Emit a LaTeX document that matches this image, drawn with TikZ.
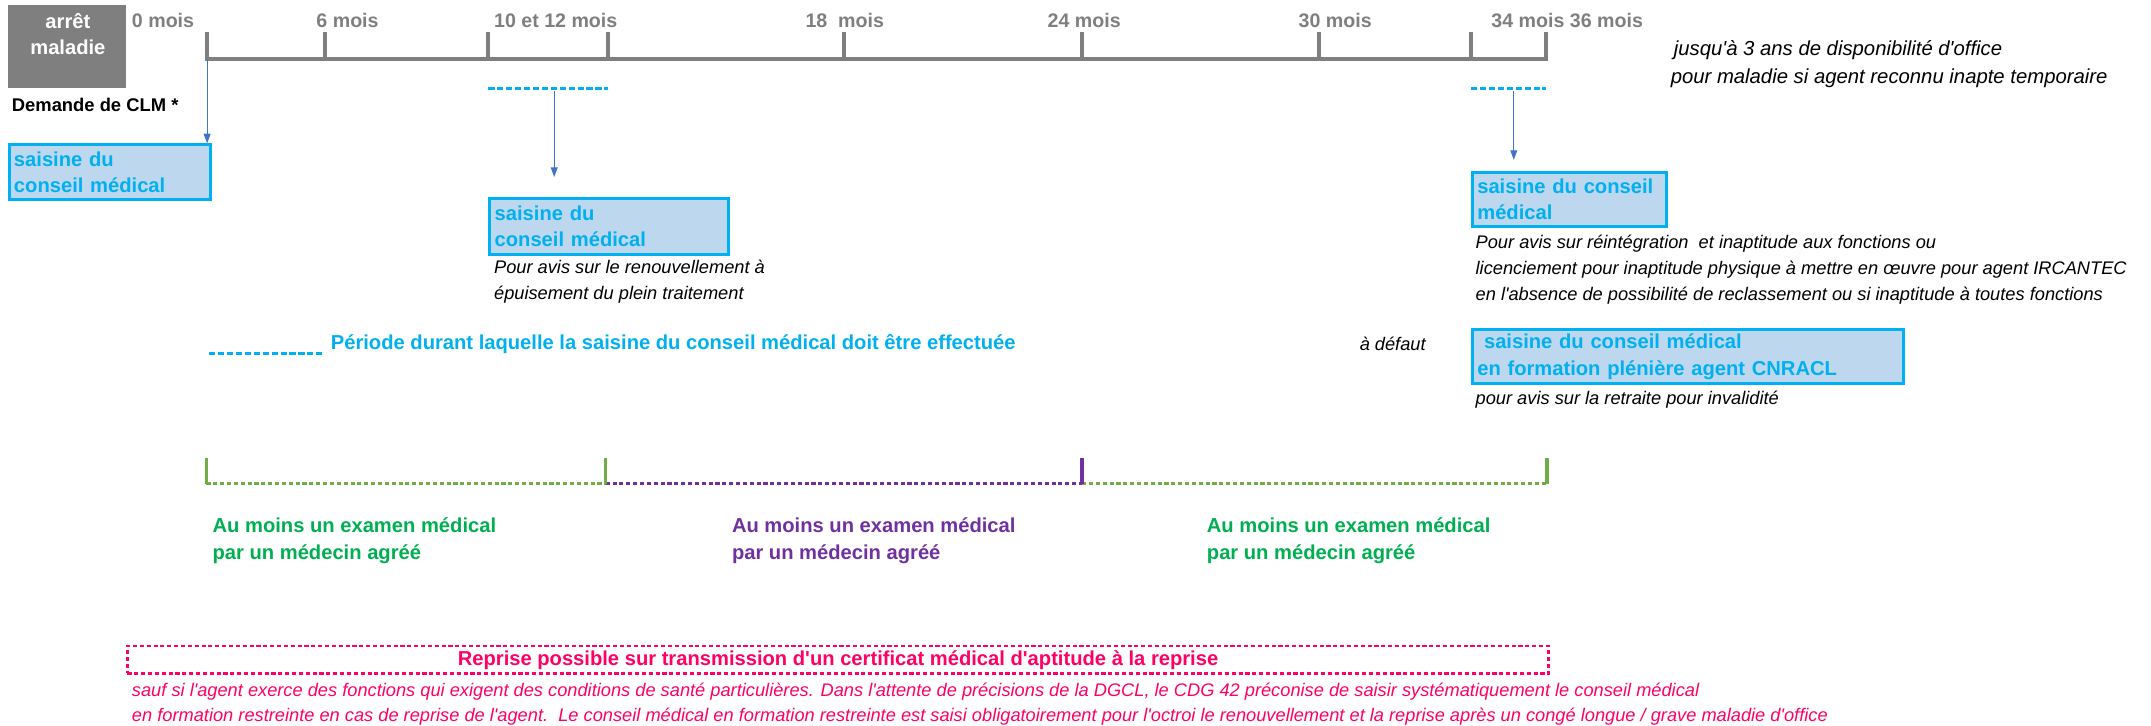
\documentclass[tikz,border=0pt]{standalone}
\usepackage{fontspec}
\setmainfont{Liberation Sans}[Ligatures=TeXOff]
\usetikzlibrary{arrows.meta,calc}
\definecolor{axisgray}{HTML}{7F7F7F}
\definecolor{cyanc}{HTML}{00B0F0}
\definecolor{boxfill}{HTML}{BDD7EE}
\definecolor{arrowblue}{HTML}{4472C4}
\definecolor{greenline}{HTML}{70AD47}
\definecolor{greentext}{HTML}{00B050}
\definecolor{purplec}{HTML}{7030A0}
\definecolor{pinkc}{HTML}{FF0066}
\newcommand{\myfB}{\fontsize{14.7}{19.5}\selectfont\bfseries}
\newcommand{\myfT}{\fontsize{14.3}{17}\selectfont\bfseries}
\newcommand{\myfI}{\fontsize{13.3}{18.8}\selectfont\itshape}
\newcommand{\myfIL}{\fontsize{14.8}{20}\selectfont\itshape}
\tikzset{
  axisline/.style={draw=axisgray, line width=3pt, line cap=butt, line join=miter},
  ticklbl/.style={anchor=base west, inner sep=0pt, text=axisgray, font=\myfT},
  cmbox/.style={draw=cyanc, line width=2.2pt, fill=boxfill, anchor=north west, align=left,
    text=cyanc, font=\myfB, inner xsep=3.5pt, inner ysep=0pt},
  note/.style={anchor=north west, inner sep=0pt, align=left, font=\myfI},
  oneline/.style={anchor=base west, inner sep=0pt},
  bluedash/.style={draw=cyanc, line width=2.2pt, dash pattern=on 4.5pt off 2pt},
  conn/.style={draw=arrowblue, line width=0.8pt, -{Triangle[length=7pt,width=5pt]}},
  greendash/.style={draw=greenline, line width=2.2pt, dash pattern=on 3pt off 2pt},
  purpledash/.style={draw=purplec, line width=2.2pt, dash pattern=on 3pt off 2pt},
  greentick/.style={draw=greenline, line width=2.6pt},
  purpletick/.style={draw=purplec, line width=2.6pt},
  exam/.style={anchor=north west, inner sep=0pt, align=left, font=\myfB},
}
\begin{document}
\begin{tikzpicture}[x=1pt,y=-1pt]
\useasboundingbox (0,0) rectangle (1568,529);

% grey box
\fill[axisgray] (6,3.6) rectangle (92,64);
\node[inner sep=0pt, align=center, text=white, font=\myfB] (arret) at (49.5,24.8) {arrêt\\maladie};
\node[oneline, font=\fontsize{13.4}{16}\selectfont\bfseries] (clm) at (8.5,81.4) {Demande de CLM *};

% time axis
\coordinate (t0) at (151,43);
\coordinate (t6) at (237,43);
\coordinate (t10) at (356,43);
\coordinate (t12) at (443,43);
\coordinate (t18) at (615.5,43);
\coordinate (t24) at (788.5,43);
\coordinate (t30) at (961.4,43);
\coordinate (t34) at (1072.4,43);
\coordinate (t36) at (1126.7,43);
\draw[axisline] ($(t0)+(0,-20)$) -- (t0) -- (t36) -- ($(t36)+(0,-20)$);
\foreach \t in {t6,t10,t12,t18,t24,t30,t34}
  \draw[axisline] (\t) -- ++(0,-20);

\node[ticklbl] (l0) at (96,19.7) {0 mois};
\node[ticklbl] (l6) at (230.5,19.7) {6 mois};
\node[ticklbl] (l10) at (360,19.7) {10 et 12 mois};
\node[ticklbl] (l18) at (587,19.7) {18\ \ mois};
\node[ticklbl] (l24) at (763.5,19.7) {24 mois};
\node[ticklbl] (l30) at (946.5,19.7) {30 mois};
\node[ticklbl] (l34) at (1087,19.7) {34 mois 36 mois};

\node[oneline, font=\myfIL] (jus1) at (1220,40.5) {jusqu'à 3 ans de disponibilité d'office};
\node[oneline, font=\myfIL] (jus2) at (1217.7,61.2) {pour maladie si agent reconnu inapte temporaire};

% saisine periods
\coordinate (d10) at (356,64.4);
\coordinate (d12) at (443,64.4);
\coordinate (d34) at (1072.4,64.4);
\coordinate (d36) at (1126.7,64.4);
\draw[bluedash] (d10) -- (d12);
\draw[bluedash] (d34) -- (d36);

% boxes
\node[cmbox, minimum width=146.4pt, text width=139.4pt, minimum height=40pt] (b1) at (5.6,104.5) {saisine du\\conseil médical};
\node[cmbox, minimum width=174pt, text width=167pt, minimum height=41pt] (b2) at (356,143.4) {saisine du\\conseil médical};
\node[cmbox, minimum width=141.6pt, text width=134.6pt, minimum height=39.5pt] (b3) at (1072.3,124.5) {saisine du conseil\\médical};
\node[cmbox, minimum width=314pt, text width=307pt, minimum height=39pt] (b4) at (1072.3,239.3) {\ saisine du conseil médical\\en formation plénière agent CNRACL};

% arrows
\coordinate (a2s) at (404,66);
\coordinate (a2e) at (404,129);
\coordinate (a3s) at (1103.5,66);
\coordinate (a3e) at (1103.5,116.6);
\draw[conn] (t0) -- (t0 |- b1.north);
\draw[conn] (a2s) -- (a2e);
\draw[conn] (a3s) -- (a3e);

% notes
\node[note] (n2) at (360,186.2) {\rule{0pt}{13pt}Pour avis sur le renouvellement à\\épuisement du plein traitement};
\node[note] (n3) at (1075.5,167.9) {\rule{0pt}{13pt}Pour avis sur réintégration\ \ et inaptitude aux fonctions ou\\licenciement pour inaptitude physique à mettre en œuvre pour agent IRCANTEC\\en l'absence de possibilité de reclassement ou si inaptitude à toutes fonctions};
\node[note] (n4) at (1075.5,281.4) {\rule{0pt}{13pt}pour avis sur la retraite pour invalidité};
\node[oneline, font=\myfI] (defaut) at (991,255.5) {à défaut};

% legend
\coordinate (lg1) at (152.5,258);
\coordinate (lg2) at (237,258);
\draw[bluedash] (lg1) -- (lg2);
\node[oneline, font=\myfB, text=cyanc] (periode) at (241,255.1) {Période durant laquelle la saisine du conseil médical doit être effectuée};

% examination brackets
\coordinate (m0) at (150.5,352.5);
\coordinate (m12) at (441.5,352.5);
\coordinate (m24) at (788.8,352.5);
\coordinate (m36) at (1127.7,352.5);
\draw[greendash] (m0) -- (m12);
\draw[purpledash] (m12) -- (m24);
\draw[greendash] (m24) -- (m36);
\draw[greentick] (m0) -- ++(0,-19);
\draw[greentick] (m12) -- ++(0,-19);
\draw[purpletick] (m24) -- ++(0,-19);
\draw[greentick] (m36) -- ++(0,-19);
\node[exam, text=greentext] (e1) at (154.8,374) {\rule{0pt}{14pt}Au moins un examen médical\\par un médecin agréé};
\node[exam, text=purplec] (e2) at (533.4,374) {\rule{0pt}{14pt}Au moins un examen médical\\par un médecin agréé};
\node[exam, text=greentext] (e3) at (879.6,374) {\rule{0pt}{14pt}Au moins un examen médical\\par un médecin agréé};

% reprise
\node[draw=pinkc, line width=1.8pt, dash pattern=on 3pt off 2pt, anchor=north west, minimum width=1036pt,
  minimum height=20pt, inner sep=0pt, text=pinkc, font=\myfB] (rep) at (92,470) {Reprise possible sur transmission d'un certificat médical d'aptitude à la reprise};
\node[note, text=pinkc, font=\fontsize{13.3}{18}\selectfont\itshape] (rep2) at (96,494.8) {\rule{0pt}{13pt}sauf si l'agent exerce des fonctions qui exigent des conditions de santé particulières. Dans l'attente de précisions de la DGCL, le CDG 42 préconise de saisir systématiquement le conseil médical\\en formation restreinte en cas de reprise de l'agent.\ \ Le conseil médical en formation restreinte est saisi obligatoirement pour l'octroi le renouvellement et la reprise après un congé longue / grave maladie d'office};
\end{tikzpicture}
\end{document}
